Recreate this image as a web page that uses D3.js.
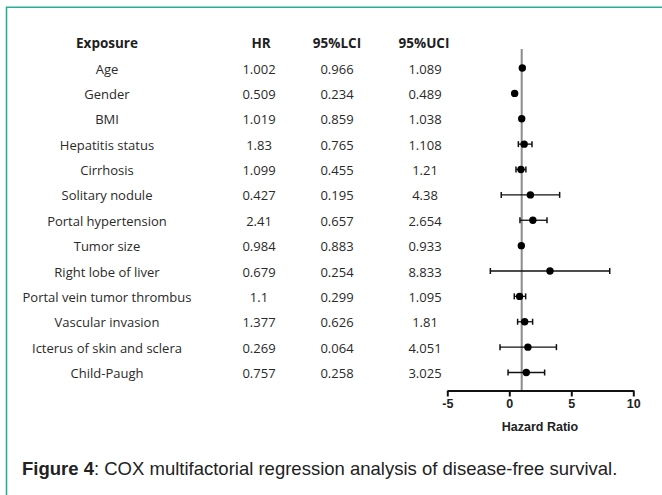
<!DOCTYPE html>
<html>
<head>
<meta charset="utf-8">
<script src="https://cdn.jsdelivr.net/npm/d3@7"></script>
<style>
  html, body { margin: 0; padding: 0; background: #fff; }
  svg { display: block; }
</style>
</head>
<body>
<div id="chart"></div>
<script>
// table values
const exposures = ["Age", "Gender", "BMI", "Hepatitis status", "Cirrhosis", "Solitary nodule",
  "Portal hypertension", "Tumor size", "Right lobe of liver", "Portal vein tumor thrombus",
  "Vascular invasion", "Icterus of skin and sclera", "Child-Paugh"];
const hrText  = ["1.002", "0.509", "1.019", "1.83", "1.099", "0.427", "2.41", "0.984", "0.679", "1.1", "1.377", "0.269", "0.757"];
const lciText = ["0.966", "0.234", "0.859", "0.765", "0.455", "0.195", "0.657", "0.883", "0.254", "0.299", "0.626", "0.064", "0.258"];
const uciText = ["1.089", "0.489", "1.038", "1.108", "1.21", "4.38", "2.654", "0.933", "8.833", "1.095", "1.81", "4.051", "3.025"];

// values as drawn in the forest plot
const plotHR = [1.05, 0.43, 1.0, 1.2, 0.94, 1.7, 1.9, 0.97, 3.28, 0.83, 1.24, 1.5, 1.37];
const plotLo = [null, null, null, 0.73, 0.54, -0.65, 0.86, null, -1.53, 0.4, 0.67, -0.75, -0.1];
const plotHi = [null, null, null, 1.83, 1.34, 4.06, 3.04, null, 8.1, 1.32, 1.88, 3.8, 2.85];

const xTicks = [-5, 0, 5, 10];
const headers = ["Exposure", "HR", "95%LCI", "95%UCI"];

const W = 662, H = 495;
const svg = d3.select("#chart").append("svg")
  .attr("width", W).attr("height", H);

// frame lines
svg.append("line").attr("x1", 6.5).attr("x2", 6.5).attr("y1", 7).attr("y2", H)
  .attr("stroke", "#2aae96").attr("stroke-width", 1.6);
svg.append("line").attr("x1", 6).attr("x2", W).attr("y1", 7.3).attr("y2", 7.3)
  .attr("stroke", "#2aae96").attr("stroke-width", 1.6);

const yRow = d3.scalePoint().domain(exposures).range([69, 373.5]);
const colX = [107, 259, 337, 425];
const tableFont = "'Open Sans', sans-serif";

// headers
svg.append("g").selectAll("text").data(headers).join("text")
  .attr("x", (d, i) => [107, 261, 337, 424][i])
  .attr("y", 43.5).attr("dy", "0.35em")
  .attr("text-anchor", "middle")
  .style("font-family", tableFont).style("font-weight", "700").style("font-size", "13.5px")
  .attr("fill", "#1e1e1e")
  .text(d => d);

// table columns
const cols = [exposures, hrText, lciText, uciText];
cols.forEach((col, ci) => {
  svg.append("g").selectAll("text").data(col).join("text")
    .attr("x", colX[ci])
    .attr("y", (d, i) => yRow(exposures[i]))
    .attr("dy", "0.35em")
    .attr("text-anchor", "middle")
    .style("font-family", tableFont).style("font-size", "13px")
    .attr("fill", "#2a2a2a")
    .text(d => d);
});

// forest plot
const x = d3.scaleLinear().domain([-5, 10]).range([447.3, 633.3]);
const axisY = 390.5;

svg.append("line")
  .attr("x1", x(1)).attr("x2", x(1)).attr("y1", 49).attr("y2", axisY)
  .attr("stroke", "#8c8c8c").attr("stroke-width", 2);

const pts = exposures.map((e, i) => ({e, hr: plotHR[i], lo: plotLo[i], hi: plotHi[i]}));
const ci = pts.filter(d => d.lo != null);
const g = svg.append("g");
g.selectAll(".ci").data(ci).join("line")
  .attr("x1", d => x(d.lo)).attr("x2", d => x(d.hi))
  .attr("y1", d => yRow(d.e) - 1).attr("y2", d => yRow(d.e) - 1)
  .attr("stroke", "#111").attr("stroke-width", 1.3);
["lo", "hi"].forEach(k => {
  g.selectAll(".cap-" + k).data(ci).join("line")
    .attr("x1", d => x(d[k])).attr("x2", d => x(d[k]))
    .attr("y1", d => yRow(d.e) - 4).attr("y2", d => yRow(d.e) + 2)
    .attr("stroke", "#111").attr("stroke-width", 1.5);
});
g.selectAll("circle").data(pts).join("circle")
  .attr("cx", d => x(d.hr)).attr("cy", d => yRow(d.e) - 1)
  .attr("r", 3.7).attr("fill", "#000");

const axis = svg.append("g")
  .attr("transform", `translate(0,${axisY})`)
  .call(d3.axisBottom(x).tickValues(xTicks).tickFormat(d => String(d))
    .tickSize(6).tickSizeOuter(0).tickPadding(3));
axis.select(".domain").attr("stroke", "#111").attr("stroke-width", 2);
axis.selectAll(".tick line").attr("stroke", "#111").attr("stroke-width", 2);
axis.selectAll(".tick text")
  .style("font-family", "'Liberation Sans', Arial, sans-serif")
  .style("font-weight", "700").style("font-size", "12.5px").attr("fill", "#222");

svg.append("text")
  .attr("x", 540).attr("y", 431)
  .attr("text-anchor", "middle")
  .style("font-family", "'Liberation Sans', Arial, sans-serif")
  .style("font-weight", "700").style("font-size", "12.5px").attr("fill", "#222")
  .text("Hazard Ratio");

// caption
const cap = svg.append("text")
  .attr("x", 22).attr("y", 475)
  .style("font-family", "'Liberation Sans', Arial, sans-serif")
  .style("font-size", "18.5px").attr("fill", "#222");
cap.append("tspan").style("font-weight", "700").text("Figure 4");
cap.append("tspan").text(": COX multifactorial regression analysis of disease-free survival.");
</script>
</body>
</html>
